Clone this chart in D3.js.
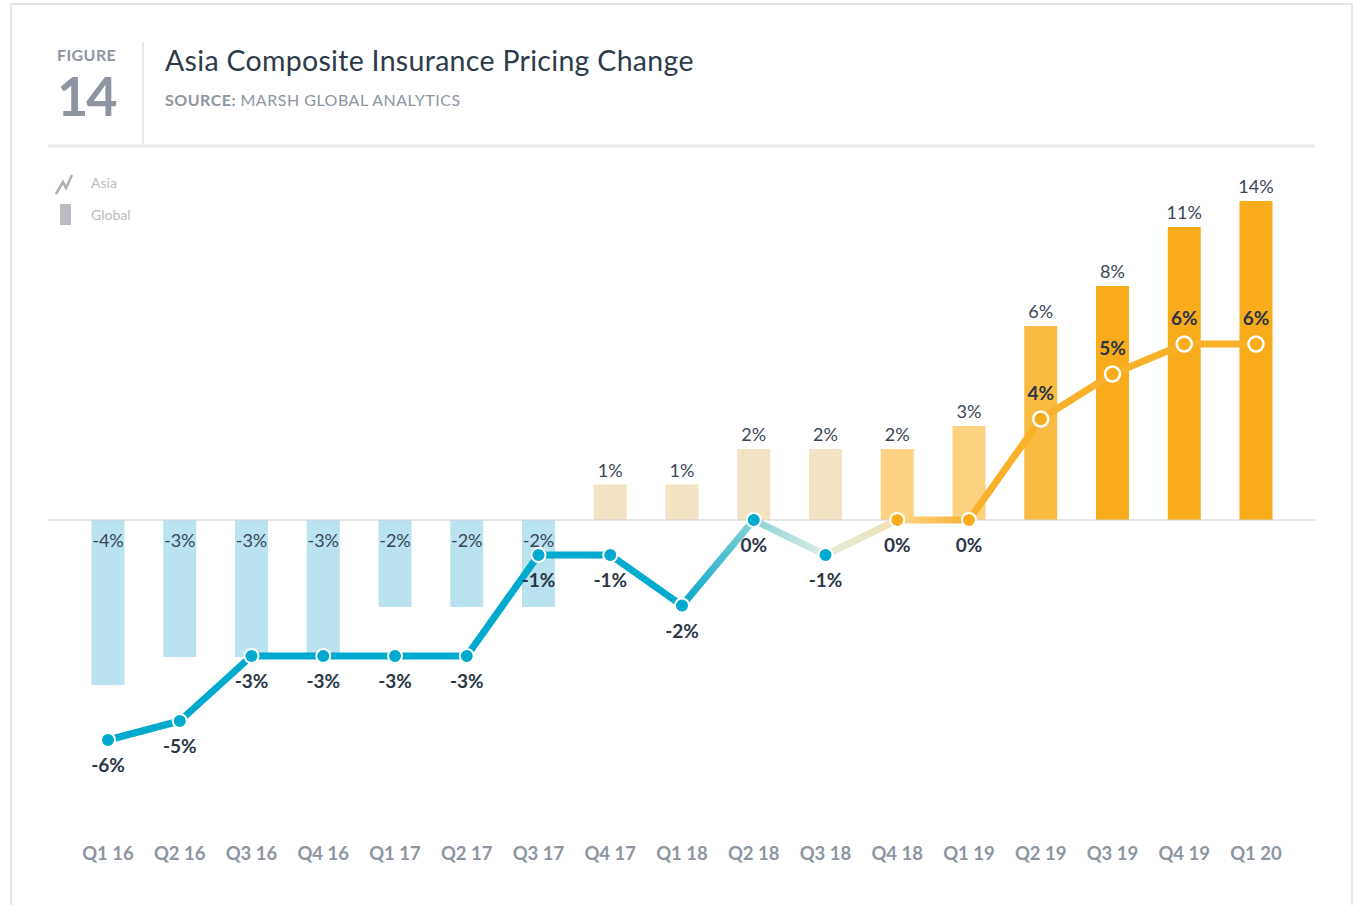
<!DOCTYPE html>
<html>
<head>
<meta charset="utf-8">
<script src="https://cdn.jsdelivr.net/npm/d3@7"></script>
<style>
  body { margin: 0; background: #fff; font-family: Lato, "Open Sans", sans-serif; }
</style>
</head>
<body>
<svg id="chart"></svg>
<script>
let quarters = ["Q1 16", "Q2 16", "Q3 16", "Q4 16", "Q1 17", "Q2 17", "Q3 17", "Q4 17", "Q1 18",
    "Q2 18", "Q3 18", "Q4 18", "Q1 19", "Q2 19", "Q3 19", "Q4 19", "Q1 20"];
let globalValues = [-4, -3, -3, -3, -2, -2, -2, 1, 1, 2, 2, 2, 3, 6, 8, 11, 14];
let asiaValues = [-6, -5, -3, -3, -3, -3, -1, -1, -2, 0, -1, 0, 0, 4, 5, 6, 6];

showChart();

function showChart() {
    let width = 1353;
    let height = 905;

    let blue = "#00a9ce";
    let orange = "#f9ac1b";
    let textDark = "#2b3647";
    let grey = "#8d95a1";

    // bar colours step from blue to beige to orange across the quarters
    let barColors = ["#b8e3ef", "#b8e3ef", "#b8e3ef", "#b8e3ef", "#b8e3ef", "#b8e3ef", "#b8e3ef",
        "#f2e3c2", "#f2e3c2", "#f2e3c2", "#f2e3c2", "#fdd283", "#fcd180", "#f9bc40",
        orange, orange, orange];
    // start / end colour of each line segment
    let segColors = [
        [blue, blue], [blue, blue], [blue, blue], [blue, blue], [blue, blue], [blue, blue],
        [blue, blue], [blue, blue],
        ["#0aa7c9", "#86d1d8"],
        ["#8fd3d8", "#dcede4"],
        ["#e2ecdc", "#f1dfb3"],
        ["#fcd68b", "#f8b130"],
        ["#f9b12a", "#f9b12a"], ["#f9b12a", "#f9b12a"], ["#f9b12a", "#f9b12a"], ["#f9b12a", "#f9b12a"]
    ];

    let svg = d3.select("#chart")
        .attr("width", width)
        .attr("height", height);

    // card frame
    svg.append("rect")
        .attr("x", 11).attr("y", 4)
        .attr("width", 1341).attr("height", 920)
        .attr("fill", "none")
        .attr("stroke", "#e6e6e6")
        .attr("stroke-width", 2);

    // header
    svg.append("text").attr("x", 57).attr("y", 61)
        .attr("font-size", 16).attr("font-weight", 700).attr("fill", grey)
        .attr("letter-spacing", 0.4)
        .text("FIGURE");
    svg.append("text").attr("x", 57).attr("y", 116)
        .attr("font-size", 54).attr("font-weight", 700).attr("fill", grey)
        .attr("letter-spacing", -2)
        .text("14");
    svg.append("line")
        .attr("x1", 143).attr("x2", 143).attr("y1", 42).attr("y2", 144)
        .attr("stroke", "#e6e8ea").attr("stroke-width", 2);
    svg.append("line")
        .attr("x1", 48).attr("x2", 1315).attr("y1", 146).attr("y2", 146)
        .attr("stroke", "#e8eaec").attr("stroke-width", 3);
    svg.append("text").attr("x", 165).attr("y", 71)
        .attr("font-size", 28.5).attr("fill", "#2c3a4b")
        .attr("letter-spacing", 0.3)
        .text("Asia Composite Insurance Pricing Change");
    let src = svg.append("text").attr("x", 165).attr("y", 106)
        .attr("font-size", 16).attr("fill", grey)
        .attr("letter-spacing", 0.5);
    src.append("tspan").attr("font-weight", 700).text("SOURCE: ");
    src.append("tspan").text("MARSH GLOBAL ANALYTICS");

    // legend
    svg.append("path")
        .attr("d", "M56,194 L63,182 L66,188 L72,175")
        .attr("fill", "none").attr("stroke", "#aeb2b8").attr("stroke-width", 2.5);
    svg.append("text").attr("x", 91).attr("y", 188)
        .attr("font-size", 14).attr("fill", "#b8bcc2").text("Asia");
    svg.append("rect").attr("x", 60).attr("y", 204).attr("width", 11).attr("height", 21)
        .attr("fill", "#b9bcc1");
    svg.append("text").attr("x", 91).attr("y", 220)
        .attr("font-size", 14).attr("fill", "#b8bcc2").text("Global");

    // scales: the original uses a non-linear vertical scale, so use polylinear stops
    let xScale = d3.scalePoint()
        .domain(quarters)
        .range([108, 1256]);
    let yBar = d3.scaleLinear()
        .domain([-4, -3, -2, 0, 2, 3, 6, 8, 11, 14])
        .range([685, 657, 607, 520, 449, 426, 326, 286, 227, 201]);
    let yLine = d3.scaleLinear()
        .domain([-6, -5, -3, -1, 0, 4, 5, 6])
        .range([740, 721, 656, 555, 520, 419, 374, 344]);
    let barWidth = 33;

    // bars
    svg.append("g").selectAll("rect")
        .data(globalValues)
        .enter().append("rect")
        .attr("x", (d, i) => xScale(quarters[i]) - barWidth / 2)
        .attr("y", d => Math.min(yBar(d), yBar(0)))
        .attr("width", barWidth)
        .attr("height", d => Math.abs(yBar(d) - yBar(0)))
        .attr("fill", (d, i) => barColors[i]);

    // zero line
    svg.append("line")
        .attr("x1", 48).attr("x2", 1315)
        .attr("y1", yBar(0)).attr("y2", yBar(0))
        .attr("stroke", "#cfcfcf").attr("stroke-width", 1.2);

    // bar labels
    svg.append("g").selectAll("text")
        .data(globalValues)
        .enter().append("text")
        .attr("x", (d, i) => xScale(quarters[i]))
        .attr("y", d => d < 0 ? yBar(0) + 27 : yBar(d) - 8)
        .attr("text-anchor", "middle")
        .attr("font-size", 18)
        .attr("fill", "#3a4657")
        .text(d => d + "%");

    // line segments with gradients
    let defs = svg.append("defs");
    let segs = svg.append("g");
    for (let i = 0; i < asiaValues.length - 1; i++) {
        let x1 = xScale(quarters[i]), x2 = xScale(quarters[i + 1]);
        let y1 = yLine(asiaValues[i]), y2 = yLine(asiaValues[i + 1]);
        let grad = defs.append("linearGradient")
            .attr("id", "seg" + i)
            .attr("gradientUnits", "userSpaceOnUse")
            .attr("x1", x1).attr("y1", y1).attr("x2", x2).attr("y2", y2);
        grad.append("stop").attr("offset", "0%").attr("stop-color", segColors[i][0]);
        grad.append("stop").attr("offset", "100%").attr("stop-color", segColors[i][1]);
        segs.append("path")
            .attr("d", d3.line()([[x1, y1], [x2, y2]]))
            .attr("stroke", `url(#seg${i})`)
            .attr("stroke-width", 7)
            .attr("stroke-linecap", "round")
            .attr("fill", "none");
    }

    // points
    svg.append("g").selectAll("circle")
        .data(asiaValues)
        .enter().append("circle")
        .attr("cx", (d, i) => xScale(quarters[i]))
        .attr("cy", d => yLine(d))
        .attr("r", (d, i) => i >= 13 ? 7.5 : 7)
        .attr("fill", (d, i) => i <= 10 ? blue : orange)
        .attr("stroke", "#fff")
        .attr("stroke-width", (d, i) => i >= 13 ? 2.5 : 2);

    // line labels: below the point, above it once the line is positive
    svg.append("g").selectAll("text")
        .data(asiaValues)
        .enter().append("text")
        .attr("x", (d, i) => xScale(quarters[i]))
        .attr("y", d => d > 0 ? yLine(d) - 19 : yLine(d) + 32)
        .attr("text-anchor", "middle")
        .attr("font-size", 19)
        .attr("font-weight", 700)
        .attr("fill", textDark)
        .text(d => d + "%");

    // x axis labels
    svg.append("g").selectAll("text")
        .data(quarters)
        .enter().append("text")
        .attr("x", d => xScale(d))
        .attr("y", 860)
        .attr("text-anchor", "middle")
        .attr("font-size", 18.5)
        .attr("font-weight", 700)
        .attr("fill", grey)
        .text(d => d);
}
</script>
</body>
</html>
